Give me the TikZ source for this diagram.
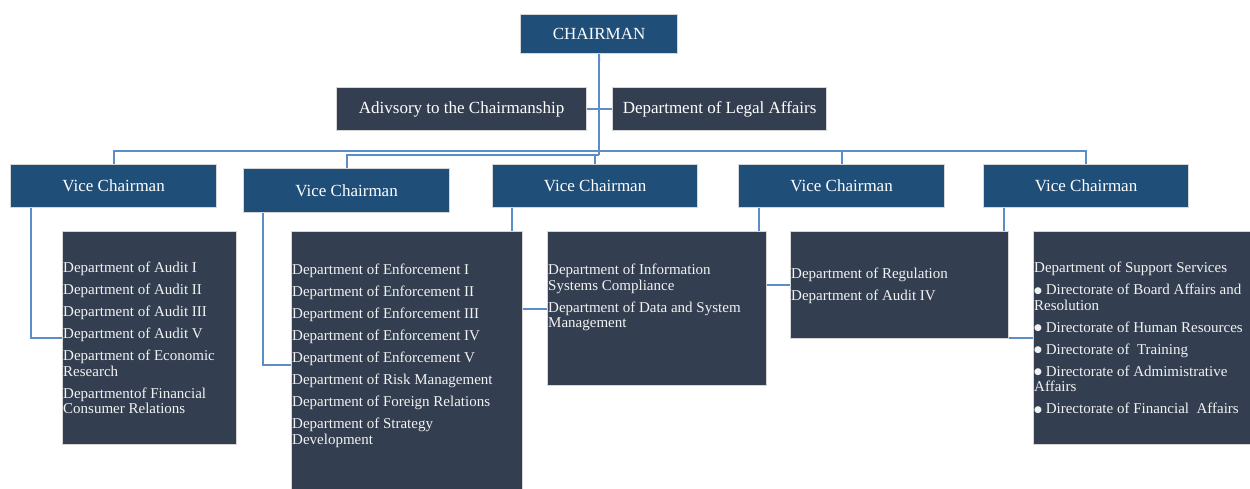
\documentclass[tikz,border=0pt]{standalone}
\usepackage{fontspec}
\setmainfont{Liberation Serif}
\newfontfamily\bulletfont{DejaVu Sans}
\newcommand{\blt}{\raisebox{1.3pt}{\bulletfont\fontsize{9}{10}\selectfont ●}}
\usetikzlibrary{calc,backgrounds}
\definecolor{vcblue}{HTML}{1F4E79}
\definecolor{deptdark}{HTML}{333F50}
\definecolor{connc}{HTML}{5B8EC6}
\definecolor{bord}{HTML}{D6D6D6}
\definecolor{txt}{HTML}{F2F2F2}
\begin{document}
\begin{tikzpicture}[x=1pt,y=-1pt,
  box/.style={draw=bord, line width=1.2pt, inner sep=0pt, anchor=north west, text=white},
  bluebox/.style={box, fill=vcblue, font=\fontsize{17}{20}\selectfont},
  darkbox/.style={box, fill=deptdark, font=\fontsize{17}{20}\selectfont},
  link/.style={draw=connc, line width=1.8pt},
  listtext/.style={anchor=north west, inner sep=0pt, align=left, text=txt, font=\fontsize{15}{15.5}\selectfont}
]
\useasboundingbox (0,0) rectangle (1250,488);
\clip (0,0) rectangle (1250,488);

% boxes
\node[bluebox, minimum width=157pt, minimum height=39pt] (ch) at (520,14) {CHAIRMAN};
\node[darkbox, minimum width=250pt, minimum height=43pt] (adv) at (336,87) {Adivsory to the Chairmanship};
\node[darkbox, minimum width=214pt, minimum height=43pt] (legal) at (612,87) {Department of Legal Affairs};

\node[bluebox, minimum width=206pt, minimum height=43pt] (vc1) at (10,164) {Vice Chairman};
\node[bluebox, minimum width=206pt, minimum height=44pt] (vc2) at (243,168) {Vice Chairman};
\node[bluebox, minimum width=205pt, minimum height=43pt] (vc3) at (492,164) {Vice Chairman};
\node[bluebox, minimum width=206pt, minimum height=43pt] (vc4) at (738,164) {Vice Chairman};
\node[bluebox, minimum width=205pt, minimum height=43pt] (vc5) at (983,164) {Vice Chairman};

\node[darkbox, minimum width=174pt, minimum height=213pt] (d1) at (62,231) {};
\node[darkbox, minimum width=231pt, minimum height=266pt] (d2) at (291,231) {};
\node[darkbox, minimum width=219pt, minimum height=154pt] (d3) at (547,231) {};
\node[darkbox, minimum width=218pt, minimum height=107pt] (d4) at (790,231) {};
\node[darkbox, minimum width=230pt, minimum height=213pt] (d5) at (1033,231) {};

% list texts
\node[listtext] (t1) at (63,262) {Department of Audit I\\[6.5pt]Department of Audit II\\[6.5pt]Department of Audit III\\[6.5pt]Department of Audit V\\[6.5pt]Department of Economic\\Research\\[6.5pt]Departmentof Financial\\Consumer Relations};
\node[listtext] (t2) at (292,264) {Department of Enforcement I\\[6.5pt]Department of Enforcement II\\[6.5pt]Department of Enforcement III\\[6.5pt]Department of Enforcement IV\\[6.5pt]Department of Enforcement V\\[6.5pt]Department of Risk Management\\[6.5pt]Department of Foreign Relations\\[6.5pt]Department of Strategy\\Development};
\node[listtext] (t3) at (548,264) {Department of Information\\Systems Compliance\\[6.5pt]Department of Data and System\\Management};
\node[listtext] (t4) at (791,268) {Department of Regulation\\[6.5pt]Department of Audit IV};
\node[listtext] (t5) at (1034,262) {Department of Support Services\\[6.5pt]\blt\ Directorate of Board Affairs and\\Resolution\\[6.5pt]\blt\ Directorate of Human Resources\\[6.5pt]\blt\ Directorate of~ Training\\[6.5pt]\blt\ Directorate of Admimistrative\\Affairs\\[6.5pt]\blt\ Directorate of Financial~ Affairs};

% connectors
\begin{scope}[on background layer]
\coordinate (busTop) at (599,151);
\coordinate (busLow) at (599,155);
\draw[link] (ch.south) -- (busLow);
\draw[link] (adv.east) -- (legal.west);
\draw[link] (vc1.north) |- (busTop) -| (vc5.north);
\draw[link] (busTop -| vc4.north) -- (vc4.north);
\draw[link] (vc2.north) |- (busLow);
\draw[link] (busLow -| vc3.north) -- (vc3.north);
\draw[link] ($(vc1.south west)+(21,0)$) |- (d1.west);
\draw[link] ($(vc2.south west)+(20,0)$) |- (d2.west);
\draw[link] ($(vc3.south west)+(20,0)$) |- (d3.west);
\draw[link] ($(vc4.south west)+(21,0)$) |- (d4.west);
\draw[link] ($(vc5.south west)+(21,0)$) |- (d5.west);
\end{scope}
\end{tikzpicture}
\end{document}
